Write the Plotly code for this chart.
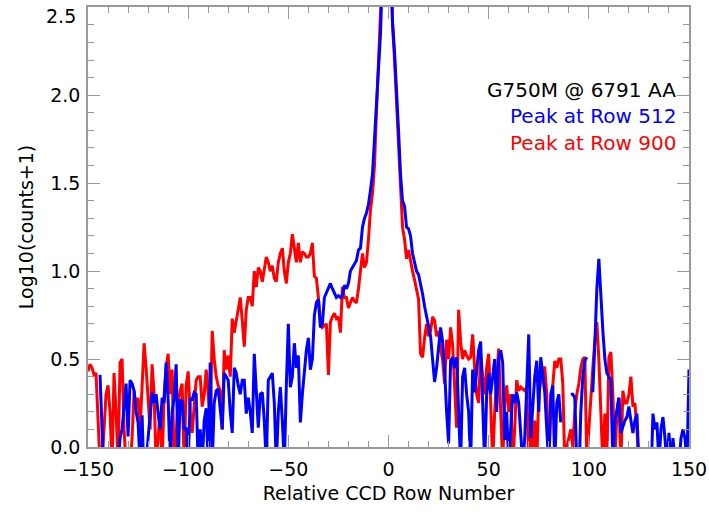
import plotly.graph_objects as go

# Relative CCD row (start) and Log10(counts+1) values, one per row
red_start = -150
red_vals = [
    0.43, 0.47, 0.45, 0.41, 0.42, 0.20, -0.1, -0.1, 0.10, 0.30,
    0.35, 0.20, -0.1, 0.42, 0.20, -0.1, 0.48, 0.50, 0.10, -0.1,
    -0.1, -0.1, 0.05, 0.32, 0.22, 0.28, 0.10, 0.35, 0.59, 0.45,
    0.25, 0.10, 0.47, 0.30, -0.1, 0.05, 0.20, -0.1, 0.30, 0.45,
    0.53, 0.30, 0.44, -0.1, 0.10, 0.25, 0.32, 0.36, -0.1, 0.35,
    0.43, 0.20, 0.08, 0.25, 0.38, 0.40, 0.40, 0.23, 0.30, 0.44,
    0.30, 0.10, 0.66, 0.50, 0.40, 0.35, 0.32, 0.10, 0.55, 0.44,
    0.52, 0.40, 0.73, 0.65, 0.72, 0.80, 0.85, 0.72, 0.57, 0.78,
    0.85, 0.85, 0.80, 1.00, 0.91, 1.02, 1.00, 0.94, 1.00, 1.08,
    1.05, 1.00, 1.03, 0.96, 0.94, 1.05, 1.10, 1.13, 1.00, 0.93,
    1.05, 1.10, 1.21, 1.12, 1.05, 1.16, 1.05, 1.11, 1.10, 1.08,
    1.08, 1.10, 1.16, 0.97, 0.96, 0.85, 0.72, 0.68, 0.69, 0.70,
    0.41, 0.71, 0.74, 0.76, 0.73, 0.74, 0.65, 0.91, 0.85, 0.85,
    0.79, 0.82, 0.85, 0.83, 0.82, 0.90, 0.99, 1.10, 1.02, 1.05,
    1.18, 1.35, 1.44, 1.60, 1.91, 2.15, 2.45, 2.80, 3.10, 3.30,
    3.20, 2.80, 2.40, 2.20, 1.98, 1.75, 1.50, 1.25, 1.18, 1.07,
    1.12, 1.05, 1.00, 0.95, 0.90, 0.84, 0.53, 0.51, 0.62, 0.70,
    0.63, 0.66, 0.74, 0.72, 0.63, 0.66, 0.55, 0.50, 0.36, 0.61,
    0.50, 0.68, 0.58, 0.34, 0.11, 0.78, 0.60, 0.50, 0.55, 0.52,
    0.50, 0.51, 0.64, 0.45, 0.30, 0.25, 0.53, 0.40, 0.30, 0.45,
    0.53, 0.25, -0.1, 0.20, 0.40, 0.56, 0.20, -0.1, 0.25, 0.35,
    0.20, 0.30, -0.1, 0.10, 0.38, 0.32, 0.34, 0.33, 0.32, 0.34,
    -0.1, 0.20, -0.1, 0.15, -0.1, 0.30, 0.38, 0.45, 0.45, 0.30,
    -0.1, 0.20, 0.35, 0.49, 0.45, 0.50, 0.50, 0.36, -0.1, 0.00,
    0.05, 0.10, 0.00, 0.20, 0.30, 0.36, 0.45, 0.50, 0.51, -0.1,
    0.10, 0.30, 0.45, 0.60, 0.71, 0.50, 0.19, -0.1, 0.19, -0.1,
    0.51, 0.54, 0.30, -0.1, 0.20, 0.28, -0.1, 0.32, 0.25, 0.25,
    0.30, 0.40, 0.23, 0.25, 0.10, -0.1,
]

blue_start = -144
blue_vals = [
    0.41, 0.15, -0.2, -0.2, -0.2, -0.2, -0.2, -0.2, -0.2, -0.1,
    0.05, 0.10, 0.25, 0.36, 0.06, 0.38, 0.36, 0.32, 0.20, 0.14,
    -0.1, 0.18, -0.2, -0.1, 0.05, 0.19, 0.31, 0.25, 0.30, 0.19,
    0.10, 0.28, 0.25, 0.48, 0.27, -0.1, 0.20, 0.28, 0.47, -0.1,
    0.27, 0.26, 0.10, 0.11, -0.1, 0.27, 0.27, 0.31, 0.30, -0.1,
    0.10, -0.1, 0.15, 0.22, -0.1, 0.48, -0.1, 0.25, 0.32, 0.33,
    0.20, 0.10, 0.42, 0.40, 0.38, 0.20, 0.08, 0.45, 0.42, 0.35,
    0.30, 0.38, 0.38, 0.19, 0.28, 0.20, 0.08, 0.53, 0.35, 0.11,
    0.30, 0.31, 0.15, -0.1, 0.38, 0.40, 0.42, 0.25, -0.1, 0.20,
    0.34, 0.15, -0.1, 0.35, 0.70, 0.34, 0.40, 0.59, 0.45, 0.52,
    0.14, 0.30, 0.45, 0.55, 0.62, 0.44, 0.50, 0.75, 0.82, 0.84,
    0.68, 0.70, 0.85, 0.88, 0.91, 0.93, 0.90, 0.87, 0.85, 0.86,
    0.85, 0.86, 0.92, 0.90, 0.93, 1.00, 1.02, 1.04, 1.06, 1.12,
    1.13, 1.25, 1.30, 1.33, 1.38, 1.46, 1.55, 1.75, 1.95, 2.15,
    2.35, 2.70, 3.00, 3.30, 3.30, 2.90, 2.42, 2.25, 2.05, 1.80,
    1.55, 1.40, 1.37, 1.25, 1.24, 1.20, 1.10, 1.05, 1.00, 0.98,
    0.93, 0.87, 0.80, 0.74, 0.68, 0.63, 0.50, 0.37, 0.45, 0.55,
    0.68, 0.60, 0.44, 0.20, 0.02, 0.49, 0.51, 0.45, 0.51, 0.20,
    -0.1, 0.40, 0.45, 0.30, 0.20, -0.1, 0.44, 0.31, 0.45, 0.55,
    0.60, 0.20, -0.1, 0.30, 0.42, 0.30, 0.40, 0.50, 0.20, 0.50,
    0.55, 0.48, 0.04, 0.20, -0.1, 0.10, 0.30, 0.25, 0.31, 0.25,
    0.10, -0.1, 0.05, 0.30, 0.64, 0.05, 0.20, 0.40, 0.49, 0.20,
    0.51, 0.40, 0.31, 0.10, -0.1, 0.30, 0.35, -0.1, 0.25, 0.30,
    0.14, None, None, None, None, 0.30, 0.30, 0.28, -0.1, -0.2,
    0.20, 0.40, 0.49, 0.51, None, 0.32, 0.32, 0.59, 0.90, 1.07,
    0.85, 0.66, 0.50, 0.42, 0.40, 0.38, -0.1, 0.15, 0.21, 0.28,
    0.08, 0.12, 0.15, 0.17, 0.23, 0.15, 0.08, 0.15, 0.19, -0.1,
    -0.2, -0.2, -0.2, -0.2, -0.2, -0.2, 0.19, 0.10, 0.14, -0.1,
    0.10, 0.17, 0.05, -0.1, 0.08, -0.1, 0.05, -0.1, -0.2, -0.1,
    0.05, 0.10, 0.05, -0.1, 0.44,
]

red_rows = list(range(red_start, red_start + len(red_vals)))
blue_rows = list(range(blue_start, blue_start + len(blue_vals)))

x_ticks = [-150, -100, -50, 0, 50, 100, 150]
x_ticklabels = ["\u2212150", "\u2212100", "\u221250", "0", "50", "100", "150"]
y_ticks = [0.0, 0.5, 1.0, 1.5, 2.0, 2.5]
# the top label (2.5) is drawn just below the top edge, as in the original
y_ticklabels = ["0.0", "0.5", "1.0", "1.5", "2.0", ""]
y_top_label = "2.5"

labels = ["G750M @ 6791 AA", "Peak at Row 512", "Peak at Row 900"]
label_colors = ["#000000", "#0000ff", "#ff0000"]
label_y = [2.03, 1.88, 1.73]

FONT = "DejaVu Sans"

fig = go.Figure()
fig.add_trace(go.Scatter(x=red_rows, y=red_vals, mode="lines",
                         line=dict(color="#ff0000", width=3),
                         connectgaps=False, showlegend=False))
fig.add_trace(go.Scatter(x=blue_rows, y=blue_vals, mode="lines",
                         line=dict(color="#0000ff", width=3),
                         connectgaps=False, showlegend=False))

for t, c, yy in zip(labels, label_colors, label_y):
    fig.add_annotation(x=144.5, y=yy, text=t, showarrow=False,
                       xanchor="right", yanchor="middle",
                       font=dict(family=FONT, size=20, color=c))

fig.add_annotation(xref="paper", x=0, y=y_ticks[-1], text=y_top_label,
                   showarrow=False, xanchor="right", yanchor="top",
                   xshift=-11, yshift=3, borderpad=0,
                   font=dict(family=FONT, size=19, color="#000000"))

axis_common = dict(
    showgrid=False, zeroline=False, showline=True, linecolor="#999999",
    linewidth=1.5, mirror="allticks", ticks="inside", ticklen=12,
    tickcolor="#999999", tickwidth=1, automargin=False,
    tickfont=dict(family=FONT, size=19, color="#000000"),
)

fig.update_xaxes(range=[-150, 150], tickvals=x_ticks, ticktext=x_ticklabels,
                 ticklabelstandoff=4,
                 minor=dict(dtick=10, ticks="inside", ticklen=6,
                            tickcolor="#999999", tickwidth=1),
                 title=dict(text="Relative CCD Row Number",
                            font=dict(family=FONT, size=19, color="#000000"),
                            standoff=8),
                 **axis_common)
fig.update_yaxes(range=[0, 2.5015], tickvals=y_ticks, ticktext=y_ticklabels,
                 ticklabelstandoff=2,
                 minor=dict(dtick=0.1, ticks="inside", ticklen=6,
                            tickcolor="#999999", tickwidth=1),
                 title=dict(text="Log10(counts+1)",
                            font=dict(family=FONT, size=19, color="#000000"),
                            standoff=12),
                 **axis_common)

fig.update_layout(width=709, height=514,
                  margin=dict(l=88, r=20, t=7, b=67),
                  plot_bgcolor="white", paper_bgcolor="white")

fig.write_html("out.html")
